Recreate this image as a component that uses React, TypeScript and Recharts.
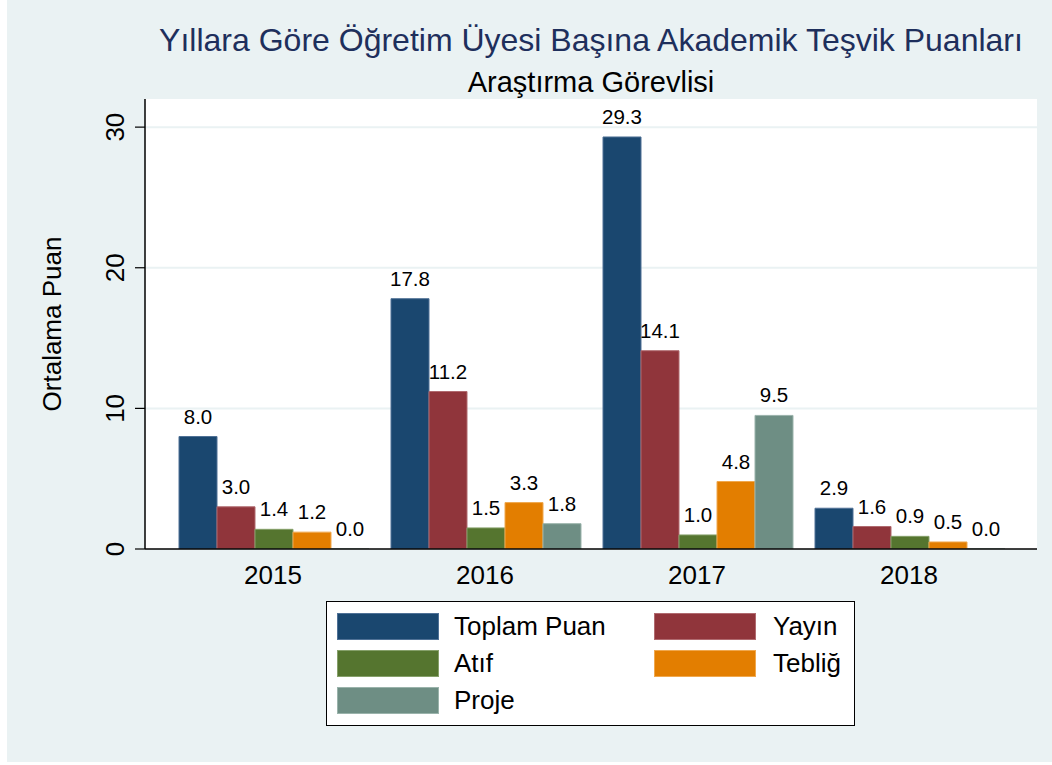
import React from 'react';
import { BarChart, Bar, XAxis, YAxis, CartesianGrid, LabelList, Legend } from 'recharts';

const years = ['2015', '2016', '2017', '2018'];
const toplamPuan = [8.0, 17.8, 29.3, 2.9];
const yayin = [3.0, 11.2, 14.1, 1.6];
const atif = [1.4, 1.5, 1.0, 0.9];
const teblig = [1.2, 3.3, 4.8, 0.5];
const proje = [0.0, 1.8, 9.5, 0.0];
const yTicks = [0, 10, 20, 30];

const series = [
  { key: 'toplam', name: 'Toplam Puan', color: '#1A476F', stroke: '#4f7196' },
  { key: 'yayin', name: 'Yayın', color: '#90353B', stroke: '#b06a6f' },
  { key: 'atif', name: 'Atıf', color: '#55752F', stroke: '#86a06a' },
  { key: 'teblig', name: 'Tebliğ', color: '#E37E00', stroke: '#f0a84e' },
  { key: 'proje', name: 'Proje', color: '#6E8E84', stroke: '#9ab3ab' },
];

const data = years.map((y, i) => ({
  year: y,
  toplam: toplamPuan[i],
  yayin: yayin[i],
  atif: atif[i],
  teblig: teblig[i],
  proje: proje[i],
}));

const FONT = '"Liberation Sans", Arial, Helvetica, sans-serif';
const BG = '#EAF2F3';

const YTick = (props: any) => {
  const { x, y, payload } = props;
  const tx = x - 9;
  return (
    <text x={tx} y={y} transform={`rotate(-90, ${tx}, ${y})`} textAnchor="middle" fontSize={26} fontFamily={FONT} fill="#000">
      {payload.value}
    </text>
  );
};

const XTick = (props: any) => {
  const { x, y, payload } = props;
  return (
    <text x={x} y={y + 27} textAnchor="middle" fontSize={26} fontFamily={FONT} fill="#000">
      {payload.value}
    </text>
  );
};

const YLabel = (props: any) => {
  const { viewBox } = props;
  const cx = 52;
  const cy = viewBox.y + viewBox.height / 2;
  return (
    <text x={cx} y={cy} transform={`rotate(-90, ${cx}, ${cy})`} textAnchor="middle" dominantBaseline="central" fontSize={26} fontFamily={FONT} fill="#000">
      Ortalama Puan
    </text>
  );
};

const LegendBox = () => {
  const order = [
    [series[0], series[1]],
    [series[2], series[3]],
    [series[4]],
  ];
  return (
    <div style={{ width: 529, height: 125, boxSizing: 'border-box', border: '1.5px solid #000', background: '#fff', position: 'relative', fontFamily: FONT }}>
      {order.map((row, r) =>
        row.map((s, c) => (
          <div key={s.key} style={{ position: 'absolute', left: c === 0 ? 10 : 327, top: 11 + r * 37, height: 27, display: 'flex', alignItems: 'center' }}>
            <div style={{ width: 102, height: 27, background: s.color, boxSizing: 'border-box', border: `1px solid ${s.stroke}` }} />
            <span style={{ marginLeft: c === 0 ? 15 : 17, fontSize: 26, color: '#000', lineHeight: '27px' }}>{s.name}</span>
          </div>
        ))
      )}
    </div>
  );
};

export default function App() {
  return (
    <div style={{ position: 'absolute', left: 0, top: 0, width: 1052, height: 765, background: '#fff', fontFamily: FONT }}>
      <div style={{ position: 'absolute', left: 7, top: 0, width: 1045, height: 762, background: BG }} />
      <div style={{ position: 'absolute', left: 145, width: 892, top: 24, fontSize: 32, lineHeight: '32px', textAlign: 'center', color: '#1E2F5C', whiteSpace: 'nowrap' }}>
        Yıllara Göre Öğretim Üyesi Başına Akademik Teşvik Puanları
      </div>
      <div style={{ position: 'absolute', left: 145, width: 892, top: 68, fontSize: 29, lineHeight: '29px', textAlign: 'center', color: '#000', whiteSpace: 'nowrap' }}>
        Araştırma Görevlisi
      </div>
      <div style={{ position: 'absolute', left: 0, top: 0 }}>
        <BarChart
          width={1052}
          height={765}
          data={data}
          margin={{ top: 99, right: 15, bottom: 156, left: 65 }}
          barCategoryGap={12}
          barGap={0}
        >
          <CartesianGrid vertical={false} horizontal={true} stroke={BG} strokeWidth={2} fill="#fff" horizontalValues={[10, 20, 30]} />
          <XAxis
            dataKey="year"
            padding={{ left: 22, right: 22 }}
            tickLine={false}
            axisLine={{ stroke: '#000', strokeWidth: 1.5 }}
            tick={<XTick />}
            height={60}
            interval={0}
          />
          <YAxis
            domain={[0, 32]}
            ticks={yTicks}
            width={80}
            tickSize={10}
            tickLine={{ stroke: '#000', strokeWidth: 1.2 }}
            axisLine={{ stroke: '#000', strokeWidth: 1.5 }}
            tick={<YTick />}
            label={<YLabel />}
            allowDataOverflow
          />
          <Legend
            layout="horizontal"
            verticalAlign="middle"
            align="center"
            content={<LegendBox />}
            wrapperStyle={{ left: 326, top: 601, width: 529, height: 125 }}
          />
          {series.map((s) => (
            <Bar key={s.key} dataKey={s.key} name={s.name} fill={s.color} stroke={s.stroke} strokeWidth={1} minPointSize={0.01} isAnimationActive={false}>
              <LabelList
                dataKey={s.key}
                position="top"
                offset={13}
                formatter={(v: any) => Number(v).toFixed(1)}
                style={{ fontSize: 20.5, fontFamily: FONT, fill: '#000' }}
              />
            </Bar>
          ))}
        </BarChart>
      </div>
    </div>
  );
}
